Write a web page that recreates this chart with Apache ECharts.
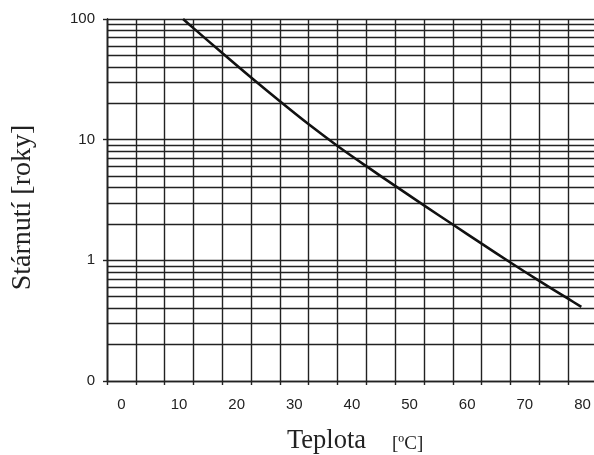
<!DOCTYPE html>
<html>
<head>
<meta charset="utf-8">
<script src="https://cdn.jsdelivr.net/npm/echarts@6/dist/echarts.min.js"></script>
<style>
html,body{margin:0;padding:0;background:#fff;}
#chart{width:594px;height:455px;}
</style>
</head>
<body>
<div id="chart"></div>
<script>
// Data (curve crossings at the vertical grid lines)
const temperature = [10.7, 12.5, 17.5, 22.5, 27.5, 32.5, 37.5, 42.5, 47.5, 52.5, 57.5, 62.5, 67.5, 72.5, 77.5, 79.8];
const aging = [100, 84, 52.2, 32.7, 20.8, 13.4, 8.87, 6.03, 4.14, 2.85, 1.98, 1.374, 0.959, 0.676, 0.481, 0.411];

// Axis tick / label values
const xGridValues = [-2.5, 2.5, 7.5, 12.5, 17.5, 22.5, 27.5, 32.5, 37.5, 42.5, 47.5, 52.5, 57.5, 62.5, 67.5, 72.5, 77.5];
const xLabelValues = [0, 10, 20, 30, 40, 50, 60, 70, 80];
const yGridValues = [0.1, 0.2, 0.3, 0.4, 0.5, 0.6, 0.7, 0.8, 0.9,
  1, 2, 3, 4, 5, 6, 7, 8, 9,
  10, 20, 30, 40, 50, 60, 70, 80, 90, 100];
const yLabelValues = [0.1, 1, 10, 100];
const yLabelText = ['0', '1', '10', '100'];

const xTitle = 'Teplota';
const xUnit = '[ºC]';
const yTitle = 'Stárnutí [roky]';

const chart = echarts.init(document.getElementById('chart'), null, {renderer: 'canvas'});
const gridColor = '#222';
const gridWidth = 1.4;
const labelStyle = {color: '#222', fontSize: 15, fontFamily: 'Liberation Sans, Arial, sans-serif'};

chart.setOption({
  animation: false,
  backgroundColor: '#fff',
  grid: {left: 107, top: 19, right: 0, bottom: 74, containLabel: false},
  xAxis: [{
    type: 'value', min: -2.5, max: 82,
    axisLine: {show: true, onZero: false, lineStyle: {color: gridColor, width: gridWidth}},
    axisTick: {show: true, customValues: xGridValues, length: 4, inside: false, lineStyle: {color: gridColor, width: gridWidth}},
    axisLabel: Object.assign({show: true, customValues: xLabelValues, margin: 16}, labelStyle),
    splitLine: {show: true, lineStyle: {color: gridColor, width: gridWidth}}
  }],
  yAxis: [{
    type: 'log', logBase: 10, min: 0.1, max: 100, position: 'left',
    axisLine: {show: true, onZero: false, lineStyle: {color: gridColor, width: gridWidth}},
    axisTick: {show: false, customValues: yGridValues},
    axisLabel: {show: false},
    splitLine: {show: true, lineStyle: {color: gridColor, width: gridWidth}}
  }, {
    type: 'log', logBase: 10, min: 0.1, max: 100, position: 'left', offset: 0,
    axisLine: {show: true, onZero: false, lineStyle: {color: gridColor, width: gridWidth}},
    axisTick: {show: true, customValues: yLabelValues, length: 4, lineStyle: {color: gridColor, width: gridWidth}},
    axisLabel: Object.assign({
      show: true, customValues: yLabelValues, margin: 12,
      formatter: function (v) { const i = yLabelValues.findIndex(function (t) { return Math.abs(t - v) < 1e-9; }); return i >= 0 ? yLabelText[i] : ''; }
    }, labelStyle),
    splitLine: {show: false}
  }],
  series: [{
    type: 'line',
    xAxisIndex: 0, yAxisIndex: 0,
    data: temperature.map(function (t, i) { return [t, aging[i]]; }),
    smooth: 0.3,
    showSymbol: false,
    lineStyle: {color: '#111', width: 2.6},
    z: 10
  }],
  graphic: [{
    type: 'text',
    x: 23, y: 207.5,
    rotation: Math.PI / 2,
    style: {text: yTitle, fill: '#222', font: '28px "Liberation Serif", "Times New Roman", serif', textAlign: 'center', textVerticalAlign: 'middle'}
  }, {
    type: 'text',
    x: 287, y: 441,
    style: {text: xTitle, fill: '#222', font: '26.5px "Liberation Serif", "Times New Roman", serif', textAlign: 'left', textVerticalAlign: 'middle'}
  }, {
    type: 'text',
    x: 392, y: 444,
    style: {text: xUnit, fill: '#222', font: '19px "Liberation Serif", "Times New Roman", serif', textAlign: 'left', textVerticalAlign: 'middle'}
  }]
});
</script>
</body>
</html>
